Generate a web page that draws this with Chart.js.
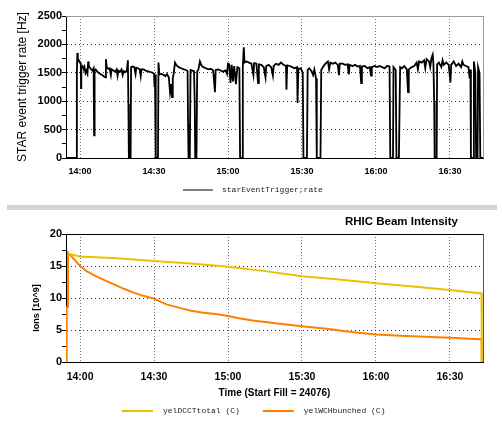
<!DOCTYPE html>
<html>
<head>
<meta charset="utf-8">
<script src="https://cdn.jsdelivr.net/npm/chart.js@4/dist/chart.umd.min.js"></script>
<style>
  body { margin: 0; background: #fff; width: 502px; height: 422px; position: relative; overflow: hidden; }
  #rateChart { position: absolute; left: 0; top: 0; }
  #beamChart { position: absolute; left: 0; top: 212px; }
  .divider { position: absolute; left: 7px; top: 205px; width: 490px; height: 5px; background: #d4d4d4; }
</style>
</head>
<body>
<canvas id="rateChart" width="502" height="200"></canvas>
<div class="divider"></div>
<canvas id="beamChart" width="502" height="210"></canvas>
<script>
// x values are minutes after 14:00
const xRange = [-5.7, 163.4];
const xTickMinutes = [0, 30, 60, 90, 120, 150];
const xTickLabels = ['14:00', '14:30', '15:00', '15:30', '16:00', '16:30'];

const rateMajorTicks = [0, 500, 1000, 1500, 2000, 2500];
const rateMinorTicks = [250, 750, 1250, 1750, 2250];
const beamMajorTicks = [0, 5, 10, 15, 20];
const beamMinorTicks = [2.5, 7.5, 12.5, 17.5];

// starEventTrigger;rate  [minute, Hz]
const rateSamples = [
  [-5.7, 0], [-1.4, 0], [-1.3, 1500], [-1.1, 1850], [-0.9, 1700], [-0.5, 1720], [0.0, 1680], [0.3, 1650],
  [0.4, 1230], [0.5, 1600], [1.0, 1620], [1.5, 1560], [1.8, 1600], [2.2, 1500], [2.5, 1540], [3.0, 1480],
  [3.3, 1700], [3.5, 1620], [4.0, 1590], [4.5, 1560], [5.0, 1540], [5.5, 1580], [5.7, 400], [5.9, 1550],
  [6.3, 1560], [7.0, 1520], [7.5, 1500], [8.2, 1480], [9.0, 1460], [9.8, 1430], [10.3, 1420], [10.5, 1740],
  [10.8, 1600], [11.5, 1570], [12.0, 1580], [12.5, 1460], [12.8, 1560], [13.5, 1540], [14.2, 1520], [14.8, 1560],
  [15.2, 1450], [15.5, 1540], [16.2, 1520], [16.8, 1560], [17.3, 1460], [17.7, 1530], [18.3, 1510], [19.0, 1540],
  [19.4, 1720], [19.6, 950], [19.8, 0], [20.5, 0], [20.7, 1600], [21.2, 1610], [22.0, 1600], [22.5, 1480],
  [22.8, 1590], [23.5, 1580], [24.2, 1560], [24.6, 1440], [24.9, 1560], [25.8, 1560], [26.5, 1540], [27.2, 1530],
  [28.0, 1520], [28.7, 1510], [29.5, 1500], [30.0, 1480], [30.2, 1250], [30.4, 1470], [30.7, 0], [31.6, 0],
  [31.8, 1680], [32.2, 1470], [33.0, 1480], [34.0, 1460], [34.6, 1440], [35.2, 1480], [36.0, 1420], [36.5, 1150],
  [37.0, 1300], [37.3, 1070], [37.6, 1400], [38.0, 1500], [38.5, 1680], [39.0, 1640], [40.0, 1600], [41.0, 1580],
  [42.0, 1560], [43.0, 1550], [43.6, 1530], [43.8, 600], [44.0, 0], [44.5, 0], [44.8, 1550], [45.5, 1540],
  [46.2, 1530], [46.5, 1000], [46.7, 0], [47.2, 0], [47.5, 1520], [48.0, 1560], [48.6, 1700], [49.2, 1630],
  [50.0, 1600], [51.0, 1580], [52.0, 1560], [53.0, 1570], [54.0, 1540], [54.7, 1160], [55.0, 1550], [56.0, 1560],
  [57.0, 1540], [58.0, 1520], [59.0, 1540], [59.6, 1480], [60.0, 1660], [60.5, 1650], [61.0, 1320], [61.5, 1640],
  [62.0, 1350], [62.5, 1620], [63.2, 1300], [63.8, 1600], [64.6, 1580], [64.9, 0], [65.7, 0], [66.0, 1600],
  [66.4, 1950], [66.7, 1680], [67.5, 1700], [68.5, 1680], [69.5, 1660], [70.3, 1460], [70.6, 1670], [71.5, 1660],
  [72.2, 1320], [72.5, 1650], [73.5, 1640], [74.5, 1600], [75.2, 1420], [75.5, 1620], [76.5, 1640], [77.5, 1600],
  [78.2, 1450], [78.5, 1620], [79.5, 1660], [80.5, 1640], [81.5, 1680], [82.5, 1640], [83.5, 1620], [83.7, 1200],
  [84.0, 1630], [85.0, 1620], [86.0, 1600], [87.0, 1580], [88.0, 1600], [88.2, 970], [88.5, 1560], [89.5, 1580],
  [90.3, 1500], [90.6, 0], [92.0, 0], [92.3, 1550], [93.0, 1580], [94.0, 1520], [94.5, 1460], [95.0, 1560],
  [95.7, 1400], [96.0, 0], [97.5, 0], [97.8, 1550], [98.5, 1600], [99.5, 1660], [100.5, 1700], [101.0, 1560],
  [101.5, 1680], [102.5, 1660], [103.5, 1680], [104.5, 1640], [105.0, 1460], [105.3, 1660], [106.5, 1660], [107.5, 1640],
  [108.5, 1650], [109.0, 1470], [109.3, 1640], [110.5, 1620], [111.5, 1640], [112.5, 1610], [113.5, 1620], [114.0, 1320],
  [114.3, 1610], [115.5, 1620], [116.5, 1580], [117.5, 1600], [118.0, 1450], [118.3, 1600], [119.5, 1620], [120.5, 1600],
  [121.5, 1620], [122.5, 1600], [123.5, 1580], [124.5, 1620], [125.5, 1610], [125.8, 0], [126.9, 0], [127.1, 1600],
  [128.0, 1550], [128.3, 0], [129.3, 0], [129.5, 680], [129.8, 1600], [130.5, 1580], [131.5, 1620], [132.5, 1560],
  [133.0, 1160], [133.3, 1560], [134.5, 1600], [135.5, 1620], [136.5, 1680], [137.0, 1560], [137.5, 1700], [138.5, 1680],
  [139.5, 1720], [140.0, 1580], [140.5, 1740], [141.5, 1700], [142.0, 1600], [142.5, 1760], [143.0, 1820], [143.3, 1650],
  [143.6, 1000], [143.8, 0], [144.6, 0], [144.8, 1650], [145.5, 1680], [146.5, 1600], [147.0, 1720], [147.5, 1640],
  [148.5, 1680], [149.5, 1640], [150.2, 1330], [150.5, 1640], [151.5, 1700], [152.5, 1620], [153.5, 1660], [154.5, 1600],
  [155.0, 1700], [155.5, 1640], [156.5, 1620], [157.5, 1600], [158.0, 1400], [158.3, 1560], [158.5, 0], [159.4, 0],
  [159.7, 1700], [160.3, 1500], [160.6, 0], [161.2, 0], [161.4, 1600], [162.0, 1500], [162.3, 0], [163.4, 0]
];

// yelDCCTtotal (C)  [minute, 10^9 ions]
const dcctSamples = [
  [-4.9, 16.9], [0, 16.5], [15, 16.2], [30, 15.8], [45, 15.4], [60, 14.9], [75, 14.2], [90, 13.4],
  [105, 12.9], [120, 12.3], [135, 11.8], [150, 11.25], [162.8, 10.7], [162.9, 0], [163.4, 0]
];

// yelWCHbunched (C)  [minute, 10^9 ions]
const wchSamples = [
  [-5.7, 0], [-5.5, 1.5], [-5.4, 8.5], [-5.2, 8.6], [-4.9, 17.1], [-3, 16.3], [0, 15.0], [3, 14.1],
  [7, 13.3], [11, 12.6], [14, 12.1], [18, 11.4], [22, 10.8], [26, 10.3], [30, 9.9], [35, 9.0],
  [40, 8.5], [45, 8.0], [50, 7.7], [55, 7.5], [60, 7.2], [65, 6.8], [70, 6.5], [80, 6.0],
  [90, 5.6], [100, 5.2], [110, 4.7], [120, 4.3], [130, 4.1], [140, 3.95], [150, 3.8], [160, 3.6],
  [162.8, 3.55], [162.9, 0], [163.4, 0]
];

const toPoints = samples => samples.map(p => ({ x: p[0], y: p[1] }));
const sans = '"Liberation Sans", Arial, sans-serif';

// top + right edge of the plot box
const framePlugin = {
  id: 'frame',
  afterDatasetsDraw(chart, args, opts) {
    const { ctx, chartArea: a } = chart;
    ctx.save();
    ctx.lineWidth = 1;
    ctx.strokeStyle = opts.topColor;
    ctx.beginPath();
    ctx.moveTo(a.left, a.top + 0.5);
    ctx.lineTo(a.right + 1, a.top + 0.5);
    ctx.stroke();
    ctx.strokeStyle = opts.rightColor;
    ctx.beginPath();
    ctx.moveTo(a.right + 0.5, a.top);
    ctx.lineTo(a.right + 0.5, a.bottom);
    ctx.stroke();
    ctx.restore();
  }
};

// legend row (line sample + series name), optional heading and side title
const lineKeyPlugin = {
  id: 'lineKey',
  afterDraw(chart, args, opts) {
    const ctx = chart.ctx;
    const area = chart.chartArea;
    let x = opts.x;
    ctx.save();
    ctx.font = opts.font;
    ctx.textBaseline = 'middle';
    chart.data.datasets.forEach(ds => {
      ctx.strokeStyle = ds.borderColor;
      ctx.lineWidth = opts.keyLineWidth || ds.borderWidth;
      ctx.beginPath();
      ctx.moveTo(x, opts.y);
      ctx.lineTo(x + opts.keyWidth, opts.y);
      ctx.stroke();
      x += opts.keyWidth + opts.gap;
      ctx.fillStyle = opts.color;
      ctx.fillText(ds.label, x, opts.y);
      x += ctx.measureText(ds.label).width + opts.spacing;
    });
    ctx.fillStyle = '#000';
    if (opts.heading) {
      ctx.font = opts.headingFont;
      ctx.textAlign = 'right';
      ctx.fillText(opts.heading, area.right - opts.headingInset, opts.headingY);
    }
    if (opts.sideTitle) {
      ctx.font = opts.sideTitleFont;
      ctx.textAlign = 'center';
      ctx.translate(opts.sideTitleX, (area.top + area.bottom) / 2 + opts.sideTitleShift);
      ctx.rotate(-Math.PI / 2);
      ctx.fillText(opts.sideTitle, 0, 0);
    }
    ctx.restore();
  }
};

const tickFont = { family: sans, weight: 'bold', size: 11 };

function yScale(min, max, majors, minors, title) {
  return {
    min: min,
    max: max,
    afterBuildTicks: s => { s.ticks = majors.concat(minors).sort((a, b) => a - b).map(v => ({ value: v })); },
    afterFit: s => { s.width = 66; },
    ticks: {
      callback: v => (majors.includes(v) ? String(v) : ''),
      font: tickFont,
      color: '#000',
      padding: 0,
      autoSkip: false
    },
    grid: {
      color: c => (c.tick && majors.includes(c.tick.value) ? '#333' : 'rgba(0,0,0,0)'),
      tickColor: '#000',
      tickLength: 4,
      lineWidth: 1
    },
    border: { color: '#000', width: 1, dash: [1, 3] },
    title: title
  };
}

function xScale(fontSize, labelPad, height, title) {
  return {
    type: 'linear',
    min: xRange[0],
    max: xRange[1],
    afterBuildTicks: s => { s.ticks = xTickMinutes.map(v => ({ value: v })); },
    afterFit: s => { s.height = height; },
    ticks: {
      callback: v => xTickLabels[xTickMinutes.indexOf(v)],
      font: Object.assign({}, tickFont, { size: fontSize }),
      color: '#000',
      padding: labelPad,
      maxRotation: 0,
      autoSkip: false
    },
    grid: { color: '#777', drawTicks: false, lineWidth: 1 },
    border: { color: '#000', width: 1, dash: [1, 2] },
    title: title
  };
}

new Chart(document.getElementById('rateChart'), {
  type: 'line',
  data: {
    datasets: [{
      label: 'starEventTrigger;rate',
      data: toPoints(rateSamples),
      borderColor: '#000',
      borderWidth: 1.8,
      pointRadius: 0,
      tension: 0
    }]
  },
  options: {
    responsive: false,
    animation: false,
    events: [],
    layout: { padding: { left: 0, top: 16, right: 19, bottom: 16 } },
    plugins: {
      legend: { display: false },
      tooltip: { enabled: false },
      frame: { topColor: '#999', rightColor: '#999' },
      lineKey: { x: 183, y: 190, keyWidth: 30, gap: 9, spacing: 23, keyLineWidth: 1,
                 font: '8px "Liberation Mono", monospace', color: '#222' }
    },
    scales: {
      x: xScale(9, 8, 26, { display: false }),
      y: yScale(0, 2500, rateMajorTicks, rateMinorTicks, {
        display: true,
        text: 'STAR event trigger rate [Hz]',
        font: { family: sans, size: 12 },
        color: '#000',
        padding: { top: 15, bottom: 0 }
      })
    }
  },
  plugins: [framePlugin, lineKeyPlugin]
});

new Chart(document.getElementById('beamChart'), {
  type: 'line',
  data: {
    datasets: [{
      label: 'yelDCCTtotal (C)',
      data: toPoints(dcctSamples),
      borderColor: '#e8c200',
      borderWidth: 2,
      pointRadius: 0,
      tension: 0
    }, {
      label: 'yelWCHbunched (C)',
      data: toPoints(wchSamples),
      borderColor: '#ff8000',
      borderWidth: 2,
      pointRadius: 0,
      tension: 0
    }]
  },
  options: {
    responsive: false,
    animation: false,
    events: [],
    layout: { padding: { left: 0, top: 22, right: 19, bottom: 20 } },
    plugins: {
      legend: { display: false },
      tooltip: { enabled: false },
      frame: { topColor: '#000', rightColor: '#555' },
      lineKey: { x: 122, y: 199, keyWidth: 31, gap: 10, spacing: 23,
                 font: '8px "Liberation Mono", monospace', color: '#222',
                 heading: 'RHIC Beam Intensity', headingFont: 'bold 11.5px ' + sans,
                 headingInset: 25, headingY: 10,
                 sideTitle: 'Ions [10^9]', sideTitleFont: 'bold 9px ' + sans,
                 sideTitleX: 37, sideTitleShift: 10 }
    },
    scales: {
      x: xScale(10.5, 9, 40, {
        display: true,
        text: 'Time (Start Fill = 24076)',
        font: { family: sans, weight: 'bold', size: 10 },
        color: '#000',
        padding: { top: 0, bottom: 3 }
      }),
      y: yScale(0, 20, beamMajorTicks, beamMinorTicks, { display: false })
    }
  },
  plugins: [framePlugin, lineKeyPlugin]
});
</script>
</body>
</html>
